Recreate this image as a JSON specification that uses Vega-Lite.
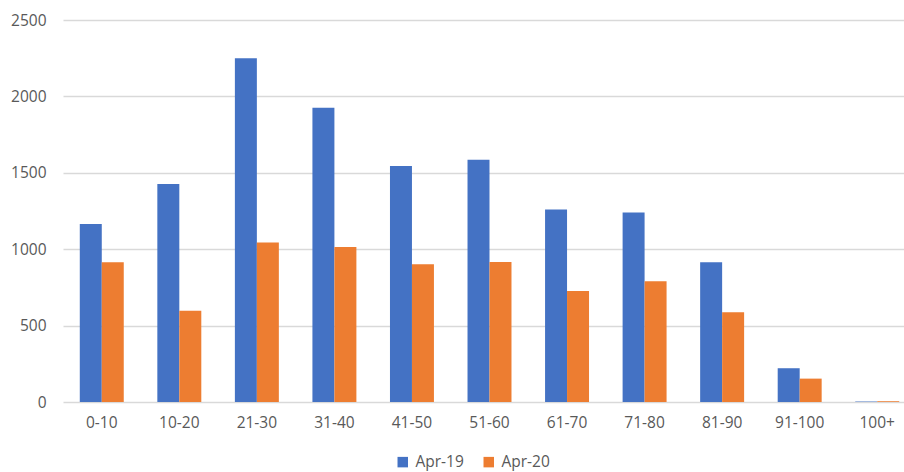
{
  "$schema": "https://vega.github.io/schema/vega-lite/v6.json",
  "width": 841,
  "height": 382,
  "autosize": {"type": "none"},
  "padding": {"left": 63, "top": 20, "right": 0, "bottom": 70},
  "background": "white",
  "config": {
    "view": {"stroke": null},
    "font": "Open Sans",
    "axis": {"labelColor": "#595959", "labelFontSize": 15.5, "domain": false, "ticks": false}
  },
  "data": {
    "values": [
      {"group": "0-10", "period": "Apr-19", "count": 1165},
      {"group": "0-10", "period": "Apr-20", "count": 915},
      {"group": "10-20", "period": "Apr-19", "count": 1426},
      {"group": "10-20", "period": "Apr-20", "count": 598},
      {"group": "21-30", "period": "Apr-19", "count": 2250},
      {"group": "21-30", "period": "Apr-20", "count": 1044},
      {"group": "31-40", "period": "Apr-19", "count": 1925},
      {"group": "31-40", "period": "Apr-20", "count": 1015},
      {"group": "41-50", "period": "Apr-19", "count": 1545},
      {"group": "41-50", "period": "Apr-20", "count": 902},
      {"group": "51-60", "period": "Apr-19", "count": 1585},
      {"group": "51-60", "period": "Apr-20", "count": 917},
      {"group": "61-70", "period": "Apr-19", "count": 1260},
      {"group": "61-70", "period": "Apr-20", "count": 727},
      {"group": "71-80", "period": "Apr-19", "count": 1240},
      {"group": "71-80", "period": "Apr-20", "count": 790},
      {"group": "81-90", "period": "Apr-19", "count": 915},
      {"group": "81-90", "period": "Apr-20", "count": 587},
      {"group": "91-100", "period": "Apr-19", "count": 221},
      {"group": "91-100", "period": "Apr-20", "count": 153},
      {"group": "100+", "period": "Apr-19", "count": 3},
      {"group": "100+", "period": "Apr-20", "count": 5}
    ]
  },
  "mark": {"type": "bar"},
  "encoding": {
    "x": {
      "field": "group",
      "type": "nominal",
      "sort": null,
      "title": null,
      "scale": {"range": [0, 853], "paddingInner": 0.433, "paddingOuter": 0.2165},
      "axis": {"labelAngle": 0, "labelPadding": 13, "grid": false}
    },
    "xOffset": {"field": "period", "type": "nominal", "scale": {"paddingInner": 0}},
    "y": {
      "field": "count",
      "type": "quantitative",
      "title": null,
      "scale": {"domain": [0, 2500], "nice": false},
      "axis": {"values": [0, 500, 1000, 1500, 2000, 2500], "format": "d", "grid": true, "gridColor": "#d9d9d9", "gridWidth": 1.3, "labelPadding": 17}
    },
    "color": {
      "field": "period",
      "type": "nominal",
      "title": null,
      "scale": {"domain": ["Apr-19", "Apr-20"], "range": ["#4472C4", "#ED7D31"]},
      "legend": {
        "orient": "none",
        "direction": "horizontal",
        "legendX": 332,
        "legendY": 434,
        "symbolType": "square",
        "symbolSize": 110,
        "symbolStrokeWidth": 0,
        "labelFontSize": 15.5,
        "labelColor": "#595959",
        "columnPadding": 17,
        "labelOffset": 5
      }
    }
  }
}
